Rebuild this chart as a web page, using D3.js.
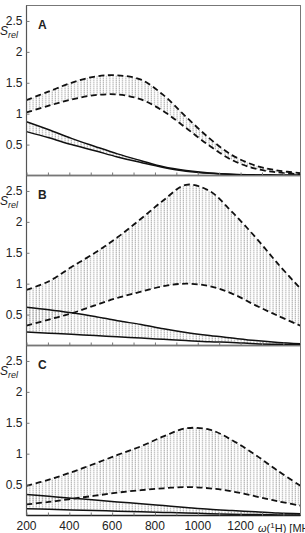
<!DOCTYPE html>
<html>
<head>
<meta charset="utf-8">
<title>S_rel vs omega</title>
<script src="https://d3js.org/d3.v7.min.js"></script>
<style>
  body { margin: 0; background: #fff; }
  text { font-family: "Liberation Sans", Arial, sans-serif; }
</style>
</head>
<body>
<script>
// frequencies in MHz
var freq = [200, 305, 410, 520, 625, 735, 840, 945, 1055, 1160, 1270, 1375, 1480];

// panel A
var aDashUp = [1.22, 1.36, 1.50, 1.60, 1.62, 1.55, 1.30, 0.95, 0.60, 0.33, 0.16, 0.08, 0.04];
var aDashLo = [1.02, 1.13, 1.23, 1.30, 1.31, 1.23, 1.04, 0.77, 0.48, 0.25, 0.11, 0.05, 0.02];
var aSolUp  = [0.87, 0.74, 0.60, 0.47, 0.35, 0.24, 0.14, 0.08, 0.04, 0.02, 0.01, 0.005, 0.003];
var aSolLo  = [0.71, 0.61, 0.50, 0.40, 0.30, 0.21, 0.13, 0.07, 0.035, 0.018, 0.01, 0.005, 0.003];
// panel B
var bDashUp = [0.90, 1.04, 1.27, 1.50, 1.75, 2.05, 2.35, 2.60, 2.50, 2.16, 1.75, 1.32, 0.92];
var bDashLo = [0.32, 0.42, 0.52, 0.65, 0.77, 0.87, 0.96, 1.00, 0.96, 0.84, 0.65, 0.48, 0.32];
var bSolUp  = [0.62, 0.58, 0.53, 0.47, 0.40, 0.34, 0.27, 0.21, 0.16, 0.12, 0.08, 0.05, 0.03];
var bSolLo  = [0.22, 0.20, 0.18, 0.16, 0.14, 0.12, 0.10, 0.08, 0.06, 0.05, 0.03, 0.02, 0.015];
// panel C
var cDashUp = [0.48, 0.58, 0.70, 0.84, 0.98, 1.12, 1.28, 1.41, 1.39, 1.22, 0.98, 0.72, 0.48];
var cDashLo = [0.18, 0.22, 0.27, 0.32, 0.37, 0.41, 0.44, 0.46, 0.44, 0.39, 0.31, 0.23, 0.16];
var cSolUp  = [0.34, 0.31, 0.28, 0.25, 0.22, 0.19, 0.16, 0.13, 0.10, 0.08, 0.06, 0.04, 0.03];
var cSolLo  = [0.11, 0.10, 0.09, 0.08, 0.07, 0.06, 0.05, 0.04, 0.03, 0.02, 0.015, 0.01, 0.01];

var yTicks = [0.5, 1, 1.5, 2, 2.5];
var xTicks = [200, 400, 600, 800, 1000, 1200];

var panels = [
  {name: "A", dash: [aDashUp, aDashLo], sol: [aSolUp, aSolLo]},
  {name: "B", dash: [bDashUp, bDashLo], sol: [bSolUp, bSolLo]},
  {name: "C", dash: [cDashUp, cDashLo], sol: [cSolUp, cSolLo]}
];

var left = 26.5, right = 300.5, top0 = 5.5, ph = 170;

var svg = d3.select("body").append("svg")
  .attr("width", 305)
  .attr("height", 533);

// hatch pattern: vertical gray dotted lines
var pat = svg.append("defs").append("pattern")
  .attr("id", "hatch")
  .attr("patternUnits", "userSpaceOnUse")
  .attr("width", 3.2).attr("height", 4);
pat.append("line")
  .attr("x1", 1).attr("x2", 1).attr("y1", 0).attr("y2", 4)
  .attr("stroke", "#ababab").attr("stroke-width", 1)
  .attr("stroke-dasharray", "1.5,0.5");

var x = d3.scaleLinear().domain([200, 1480]).range([left, right]);

panels.forEach(function(p, k) {
  var t = top0 + k * ph, b = t + ph;
  var y = d3.scaleLinear().domain([0, 2.75]).range([b, t]);
  var g = svg.append("g");

  var area = d3.area()
    .x(function(d, i) { return x(freq[i]); })
    .y0(function(d) { return y(d[1]); })
    .y1(function(d) { return y(d[0]); })
    .curve(d3.curveCatmullRom);
  var line = d3.line()
    .x(function(d, i) { return x(freq[i]); })
    .y(function(d) { return y(d); })
    .curve(d3.curveCatmullRom);

  [p.dash, p.sol].forEach(function(pair) {
    g.append("path")
      .datum(d3.zip(pair[0], pair[1]))
      .attr("d", area)
      .attr("fill", "url(#hatch)");
  });

  p.dash.forEach(function(s) {
    g.append("path").datum(s).attr("d", line)
      .attr("fill", "none").attr("stroke", "#111")
      .attr("stroke-width", 1.8).attr("stroke-dasharray", "6,3.5");
  });
  p.sol.forEach(function(s) {
    g.append("path").datum(s).attr("d", line)
      .attr("fill", "none").attr("stroke", "#111")
      .attr("stroke-width", 1.5);
  });

  // frame
  g.append("rect")
    .attr("x", left).attr("y", t)
    .attr("width", right - left).attr("height", ph)
    .attr("fill", "none").attr("stroke", "#777").attr("stroke-width", 1);
  g.append("line")
    .attr("x1", left).attr("x2", left).attr("y1", t).attr("y2", b)
    .attr("stroke", "#555").attr("stroke-width", 1.2);
  g.append("line")
    .attr("x1", left).attr("x2", right).attr("y1", b).attr("y2", b)
    .attr("stroke", "#222").attr("stroke-width", 1.3);

  // y axis
  var ya = d3.axisLeft(y).tickValues(yTicks).tickSize(-3).tickPadding(4)
    .tickFormat(function(d) { return d; });
  var yg = g.append("g").attr("transform", "translate(" + left + ",0)").call(ya);
  yg.select(".domain").remove();
  yg.selectAll("line").attr("stroke", "#777");
  yg.selectAll("text").attr("font-size", 12).attr("fill", "#222")
    .attr("font-family", "Liberation Sans, Arial, sans-serif");

  // x minor ticks on the bottom
  var xa = d3.axisTop(x).ticks(12).tickSize(3).tickFormat("");
  var xg = g.append("g").attr("transform", "translate(0," + b + ")").call(xa);
  xg.select(".domain").remove();
  xg.selectAll("line").attr("stroke", "#777");

  // panel letter
  g.append("text")
    .attr("x", 38).attr("y", t + 23)
    .attr("font-size", 12).attr("font-weight", "bold").attr("fill", "#222")
    .text(p.name);

  // S_rel label
  var lab = g.append("text")
    .attr("x", 0).attr("y", t + 29)
    .attr("font-size", 12).attr("font-style", "italic").attr("fill", "#222");
  lab.append("tspan").text("S");
  lab.append("tspan").attr("dy", 3).attr("font-size", 9).text("rel");
});

// bottom tick labels
var bottom = top0 + 3 * ph;
svg.append("g").selectAll("text")
  .data(xTicks)
  .enter().append("text")
  .attr("x", function(d) { return x(d); })
  .attr("y", bottom + 14)
  .attr("text-anchor", "middle")
  .attr("font-size", 12).attr("fill", "#222")
  .text(function(d) { return d; });

var xl = svg.append("text")
  .attr("x", 258).attr("y", bottom + 16)
  .attr("font-size", 11).attr("fill", "#222");
xl.append("tspan").attr("font-style", "italic").text("ω");
xl.append("tspan").text("(");
xl.append("tspan").attr("dy", -4).attr("font-size", 8).text("1");
xl.append("tspan").attr("dy", 4).text("H) [MHz]");
</script>
</body>
</html>
